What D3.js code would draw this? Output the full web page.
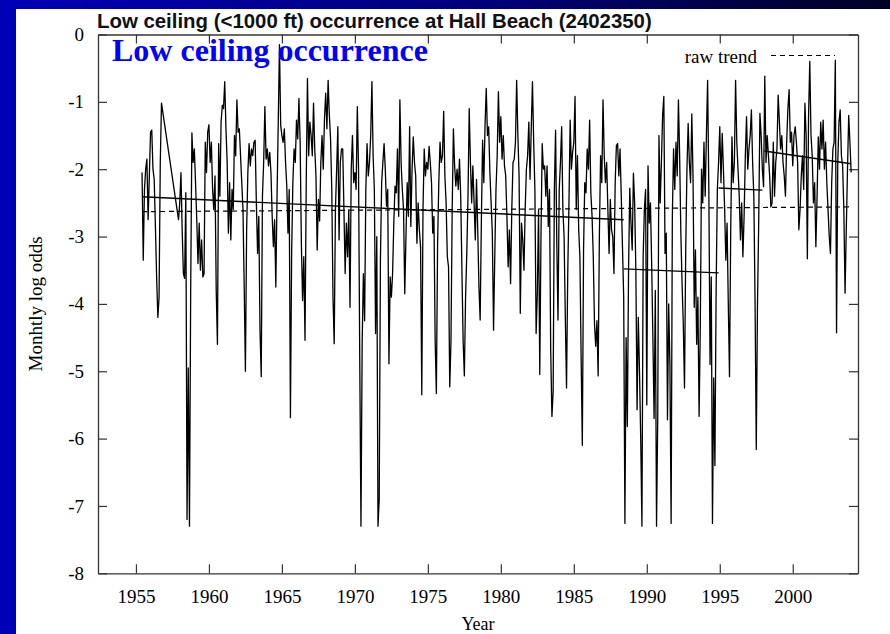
<!DOCTYPE html>
<html>
<head>
<meta charset="utf-8">
<script src="https://cdn.jsdelivr.net/npm/d3@7/dist/d3.min.js"></script>
<style>
  html, body { margin: 0; padding: 0; background: #ffffff; }
  svg { display: block; }
</style>
</head>
<body>
<svg id="chart" width="890" height="634"></svg>
<script>
// Monthly log odds of low ceiling (<1000 ft), one array per block of years,
// twelve values per year starting in January; null marks a missing month.
const logOdds1955 = [
  null, null, null, null, null, -2.05, -3.35, -2.3, -2.0, -1.85, -2.75, -2.1,   // 1955
  -1.45, -1.42, -2.0, -2.15, -2.85, -3.6, -4.2, -3.9, -1.9, -1.02, null, null,  // 1956
  null, null, null, null, null, null, null, null, null, null, null, -2.75,      // 1957
  -2.5, -2.05, -2.9, -3.55, -3.62, -2.35, -7.2, -4.95, -7.3, -3.8, -1.46, -1.9, // 1958
  -1.7, -2.2, -2.75, -3.4, -2.8, -3.5, -3.05, -3.6, -3.55, -1.6, -2.05, -1.45   // 1959
];
const logOdds1960 = [
  -1.34, -1.9, -1.6, -2.3, -2.6, -2.1, -3.8, -4.6, -1.62, -2.4, -1.3, -1.05,
  -1.1, -0.7, -1.4, -1.9, -2.95, -2.2, -3.05, -2.3, -2.6, -1.5, -1.8, -0.97,
  -1.45, -1.4, -1.8, -2.2, -2.6, -3.75, -5.0, -2.9, -2.05, -1.62, -1.95, -1.7,
  -1.8, -1.6, -1.57, -2.5, -3.25, -2.7, -4.4, -5.08, -2.4, -1.9, -1.07, -1.85,
  -1.7, -1.95, -1.75, -2.05, -2.7, -3.15, -2.75, -3.75, -2.4, -1.3, -0.15, -1.35,
  -1.5, -1.6, -1.4, -1.9, -2.25, -2.95, -2.3, -5.69, -3.25, -2.2, -1.7, -1.9,
  -1.27, -1.55, -0.95, -1.6, -3.1, -3.95, -3.3, -4.54, -2.2, -0.65, -1.8, -1.3,
  -1.5, -1.8, -1.02, -1.7, -2.1, -3.2, -2.45, -2.77, -1.9, -1.5, -2.0, -1.25,
  -0.87, -1.4, -0.68, -1.2, -1.55, -2.3, -3.9, -4.59, -2.6, -2.0, -1.37, -3.05,
  -1.9, -1.7, -1.7, -2.6, -3.55, -2.8, -3.3, -2.6, -4.05, -2.0, -1.5, -2.2
];
const logOdds1970 = [
  -2.05, -2.3, -1.07, -2.0, -4.83, -7.3, -4.55, -3.55, -4.25, -2.3, -1.62, -2.1,
  -1.9, -1.5, -0.7, -1.8, -2.3, -4.44, -3.0, -7.3, -6.9, -3.35, -2.2, -1.9,
  -1.62, -2.0, -2.55, -2.3, -4.89, -3.6, -3.9, -3.55, -2.8, -2.25, -2.35, -1.7,
  -2.7, -0.97, -1.9, -2.3, -2.6, -3.85, -3.0, -2.2, -2.7, -1.37, -2.85, -2.0,
  -1.52, -1.9, -2.1, -3.1, -2.5, -2.9, -3.15, -5.35, -2.6, -1.7, -2.1, -1.9,
  -2.0, -1.66, -1.9, -2.2, -2.95, -2.7, -4.55, -5.33, -3.1, -2.2, -1.6, -1.9,
  -1.8, -1.14, -2.1, -2.5, -3.3, -3.45, -5.23, -4.55, -2.6, -1.4, -1.95, -2.25,
  -2.0, -2.3, -1.85, -2.4, -3.5, -4.55, -5.07, -3.9, -3.25, -2.4, -1.1, -1.9,
  -2.5, -1.95, -2.5, -3.05, -2.15, -2.9, -3.75, -4.24, -2.75, -1.57, -2.2, -1.35,
  -0.8, -1.5, -1.37, -2.05, -2.5, -2.95, -4.39, -3.3, -2.3, -1.8, -0.85, -1.6
];
const logOdds1980 = [
  -1.22, -1.85, -1.5, -1.95, -2.1, -2.7, -3.45, -2.9, -3.7, -2.6, -1.9, -1.85,
  -1.6, -0.68, -1.5, -2.1, -4.14, -2.8, -3.05, -3.5, -2.6, -2.0, -1.8, -1.3,
  -2.15, -1.4, -0.7, -1.6, -2.3, -4.44, -3.85, -2.6, -5.05, -3.0, -1.62, -2.0,
  -1.95, -2.4, -1.95, -2.85, -2.3, -4.7, -5.67, -5.3, -2.3, -1.42, -3.1, -4.24,
  -2.3, -1.9, -1.37, -2.6, -3.0, -4.2, -5.25, -3.55, -2.5, -1.27, -2.0, -1.75,
  -1.6, -0.92, -2.6, -1.8, -2.9, -3.3, -4.78, -6.1, -3.2, -2.2, -2.35, -1.7,
  -2.0, -1.27, -2.35, -2.7, -3.3, -4.3, -4.63, -4.25, -5.07, -3.0, -1.8, -2.2,
  -0.97, -1.8, -2.2, -1.9, -2.6, -3.25, -2.45, -2.9, -3.0, -3.55, -2.2, -1.65,
  -1.62, -2.1, -1.7, -2.4, -3.15, -3.9, -7.26, -4.5, -5.82, -3.5, -2.28, -2.8,
  -3.2, -2.06, -2.5, -3.5, -5.57, -4.2, -5.0, -6.0, -7.3, -3.3, -2.6, -2.3
];
const logOdds1990 = [
  -5.5, -1.95, -2.8, -2.5, -3.4, -4.5, -5.7, -3.8, -7.3, -5.67, -1.5, -2.5,
  -1.9, -1.2, -0.92, -3.25, -2.95, -5.72, -4.0, -4.9, -7.26, -2.7, -1.7, -2.3,
  -1.6, -2.1, -0.97, -1.8, -2.95, -3.7, -4.3, -5.25, -3.2, -2.0, -1.32, -1.9,
  -2.2, -1.18, -2.1, -4.05, -3.2, -4.6, -3.9, -5.67, -4.3, -2.0, -2.5, -1.6,
  -2.4, -1.5, -0.68, -2.3, -4.9, -3.6, -7.26, -5.1, -6.4, -3.8, -2.3, -1.9,
  -1.37, -2.2, -1.47, -2.0, -2.6, -3.35, -2.8, -4.0, -5.08, -2.9, -1.52, -2.2,
  -1.9, -0.68, -1.6, -2.0, -2.4, -3.05, -2.5, -3.3, -2.7, -1.8, -1.22, -2.0,
  -1.7, -1.5, -1.12, -1.9, -2.4, -3.95, -6.16, -4.0, -2.8, -1.17, -1.5, -2.0,
  -2.26, -0.62, -1.9, -1.5, -1.8, -2.1, -2.56, -2.5, -1.6, -2.4, -1.9, -1.7,
  -0.9, -1.3, -1.7, -1.5, -1.9, -2.1, -2.4, -1.6, -1.1, -0.82, -1.6, -1.45
];
const logOdds2000 = [
  -1.95, -1.5, -1.37, -1.6, -1.9, -2.9, -2.6, -2.1, -1.8, -2.3, -1.02, -1.5,
  -3.33, -1.2, -0.4, -1.5, -1.8, -2.5, -2.2, -3.15, -2.4, -1.52, -2.0, -1.3,
  -1.7, -1.27, -2.0, -1.6, -2.2, -2.6, -3.0, -3.25, -2.2, -1.7, -1.6, -0.38,
  -4.43, -1.9, -1.3, -1.12, -1.8, -1.95, -2.6, -3.84, -2.9, -2.0, -1.2, -1.6,
  -2.05
];
const blockStartYears = [1955, 1960, 1970, 1980, 1990, 2000];

// Fitted trend: one straight segment per homogeneous period
const trendStartYear = [1955.42, 1988.42, 1994.92, 1998.05];
const trendEndYear   = [1988.42, 1994.92, 1997.92, 2004.0];
const trendStartVal  = [-2.41, -3.48, -2.28, -1.73];
const trendEndVal    = [-2.75, -3.54, -2.31, -1.92];

// Raw (single) linear trend over the whole record
const rawTrendYears  = [1955.42, 2004.0];
const rawTrendValues = [-2.63, -2.56];

// Axis ticks
const yearTicks = [1955, 1960, 1965, 1970, 1975, 1980, 1985, 1990, 1995, 2000];
const logOddsTicks = [0, -1, -2, -3, -4, -5, -6, -7, -8];

const titleText = "Low ceiling (<1000 ft) occurrence at Hall Beach (2402350)";
const bannerText = "Low ceiling occurrence";

// ---------------------------------------------------------------------------
const W = 890, H = 634;
const serif = '"Liberation Serif", "Times New Roman", Times, serif';
const sans = '"Liberation Sans", Arial, Helvetica, sans-serif';
const frameColor = "#333333";

const svg = d3.select("#chart");
const defs = svg.append("defs");
const band = defs.append("linearGradient").attr("id", "topBand")
  .attr("x1", "0").attr("x2", "1").attr("y1", "0").attr("y2", "0");
band.append("stop").attr("offset", "0%").attr("stop-color", "#0000b6");
band.append("stop").attr("offset", "55%").attr("stop-color", "#00007a");
band.append("stop").attr("offset", "100%").attr("stop-color", "#000024");

// slide background: white sheet with a blue strip on the left and a dark band on top
svg.append("rect").attr("width", W).attr("height", H).attr("fill", "#ffffff");
svg.append("rect").attr("x", 0).attr("y", 0).attr("width", 16).attr("height", H).attr("fill", "#0000b6");
svg.append("rect").attr("x", 0).attr("y", 0).attr("width", W).attr("height", 9).attr("fill", "url(#topBand)");

// scales
const x = d3.scaleLinear().domain([1952.4, 2004.47]).range([98, 858]);
const y = d3.scaleLinear().domain([0, -8]).range([34.5, 573.3]);

// flatten the monthly blocks into [year, value] points, skipping gaps
const blocks = [logOdds1955, logOdds1960, logOdds1970, logOdds1980, logOdds1990, logOdds2000];
const points = [];
blocks.forEach((vals, b) => {
  vals.forEach((v, i) => {
    if (v !== null) points.push([blockStartYears[b] + i / 12, v]);
  });
});

// axes (ticks point inward on all four sides)
function styleAxis(g) {
  g.attr("font-family", serif).attr("font-size", 19);
  g.selectAll("path.domain").attr("stroke", frameColor).attr("stroke-width", 1.3);
  g.selectAll(".tick line").attr("stroke", frameColor).attr("stroke-width", 1.2);
  g.selectAll(".tick text").attr("fill", "#000");
}

svg.append("g")
  .attr("transform", `translate(0,${y(-8)})`)
  .call(d3.axisBottom(x).tickValues(yearTicks).tickSize(-9).tickSizeOuter(0)
    .tickPadding(16).tickFormat(d => String(d)))
  .call(styleAxis);

svg.append("g")
  .attr("transform", `translate(0,${y(0)})`)
  .call(d3.axisTop(x).tickValues(yearTicks).tickSize(-9).tickSizeOuter(0).tickFormat(""))
  .call(styleAxis);

svg.append("g")
  .attr("transform", `translate(${x(1952.4)},0)`)
  .call(d3.axisLeft(y).tickValues(logOddsTicks).tickSize(-9).tickSizeOuter(0)
    .tickPadding(14).tickFormat(d => String(d)))
  .call(styleAxis);

svg.append("g")
  .attr("transform", `translate(${x(2004.47)},0)`)
  .call(d3.axisRight(y).tickValues(logOddsTicks).tickSize(-9).tickSizeOuter(0).tickFormat(""))
  .call(styleAxis);

// monthly series
const line = d3.line().x(d => x(d[0])).y(d => y(d[1]));
svg.append("path")
  .datum(points)
  .attr("d", line)
  .attr("fill", "none")
  .attr("stroke", "#000")
  .attr("stroke-width", 1.3)
  .attr("stroke-linejoin", "round");

// raw trend (dashed)
svg.append("path")
  .datum(rawTrendYears.map((yr, i) => [yr, rawTrendValues[i]]))
  .attr("d", line)
  .attr("fill", "none")
  .attr("stroke", "#000")
  .attr("stroke-width", 1.2)
  .attr("stroke-dasharray", "5,4");

// piecewise trend (solid)
svg.append("g").selectAll("path")
  .data(trendStartYear.map((s, i) => [[s, trendStartVal[i]], [trendEndYear[i], trendEndVal[i]]]))
  .join("path")
  .attr("d", line)
  .attr("fill", "none")
  .attr("stroke", "#000")
  .attr("stroke-width", 1.4);

// key
svg.append("text")
  .attr("x", 757).attr("y", 62.5)
  .attr("text-anchor", "end")
  .attr("font-family", serif).attr("font-size", 19)
  .attr("fill", "#000")
  .text("raw trend");
svg.append("line")
  .attr("x1", 771).attr("x2", 835).attr("y1", 55.5).attr("y2", 55.5)
  .attr("stroke", "#000").attr("stroke-width", 1.2).attr("stroke-dasharray", "5,4");

// axis titles
svg.append("text")
  .attr("x", 478).attr("y", 630)
  .attr("text-anchor", "middle")
  .attr("font-family", serif).attr("font-size", 18)
  .attr("fill", "#000")
  .text("Year");

svg.append("text")
  .attr("transform", `translate(42,${(y(0) + y(-8)) / 2}) rotate(-90)`)
  .attr("text-anchor", "middle")
  .attr("font-family", serif).attr("font-size", 19)
  .attr("fill", "#000")
  .text("Monhtly log odds");

// chart title, sized to span its line
const title = svg.append("text")
  .attr("x", 97).attr("y", 27.5)
  .attr("font-family", sans).attr("font-weight", "bold").attr("font-size", 17)
  .attr("fill", "#111")
  .text(titleText);
const tw = title.node().getComputedTextLength();
if (tw > 0) title.attr("font-size", 17 * 555 / tw);

// blue banner inside the plot
const banner = svg.append("text")
  .attr("x", 112).attr("y", 61)
  .attr("font-family", serif).attr("font-weight", "bold").attr("font-size", 32)
  .attr("fill", "#0000ff")
  .text(bannerText);
const bw = banner.node().getComputedTextLength();
if (bw > 0) banner.attr("font-size", 32 * 316 / bw);
</script>
</body>
</html>
